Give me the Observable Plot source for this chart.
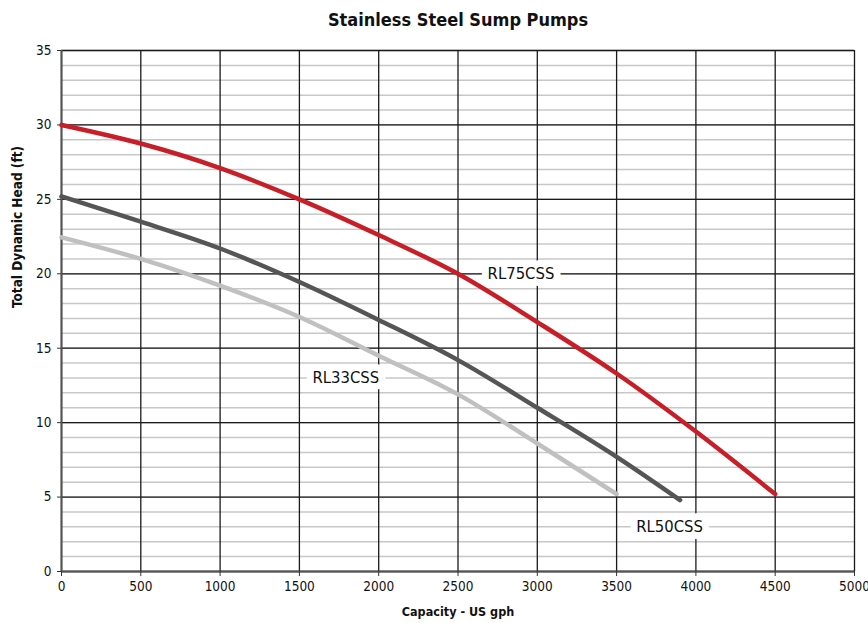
<!DOCTYPE html>
<html>
<head>
<meta charset="utf-8">
<script src="https://cdn.jsdelivr.net/npm/d3@7"></script>
<script src="https://cdn.jsdelivr.net/npm/@observablehq/plot@0.6"></script>
<style>
  body { margin: 0; background: #fff; }
  #title { width: 868px; height: 40px; line-height: 40px; text-align: center; font-family: 'Liberation Sans Narrow','DejaVu Sans Condensed',sans-serif; font-weight: bold; font-size: 18px; color: #111; padding-left: 48px; box-sizing: border-box; }
</style>
</head>
<body>
<div id="title">Stainless Steel Sump Pumps</div>
<div id="chart"></div>
<script>
// Data
const capacity = [0, 500, 1000, 1500, 2000, 2500, 3000, 3500, 4000, 4500];
const rl75 = [30.0, 28.75, 27.1, 25.0, 22.6, 20.0, 16.75, 13.3, 9.4, 5.2];
const rl50Capacity = [0, 500, 1000, 1500, 2000, 2500, 3000, 3500, 3900];
const rl50 = [25.2, 23.5, 21.7, 19.45, 16.9, 14.2, 11.0, 7.7, 4.8];
const rl33Capacity = [0, 500, 1000, 1500, 2000, 2500, 3000, 3500];
const rl33 = [22.45, 21.0, 19.2, 17.1, 14.5, 11.9, 8.6, 5.2];

const seriesNames = ["RL75CSS", "RL50CSS", "RL33CSS"];
const seriesColors = ["#c81e28", "#555555", "#c0c0c0"];
const labelX = [2897, 3834, 1793];
const labelY = [20, 3, 13];

const xTicks = [0, 500, 1000, 1500, 2000, 2500, 3000, 3500, 4000, 4500, 5000];
const yTicks = [0, 5, 10, 15, 20, 25, 30, 35];
const yMinor = [0, 1, 2, 3, 4, 5, 6, 7, 8, 9, 10, 11, 12, 13, 14, 15, 16, 17, 18, 19, 20, 21, 22, 23, 24, 25, 26, 27, 28, 29, 30, 31, 32, 33, 34, 35];

const rows = [
  ...capacity.map((c, i) => ({series: "RL75CSS", x: c, y: rl75[i]})),
  ...rl50Capacity.map((c, i) => ({series: "RL50CSS", x: c, y: rl50[i]})),
  ...rl33Capacity.map((c, i) => ({series: "RL33CSS", x: c, y: rl33[i]}))
];
const labels = seriesNames.map((s, i) => ({name: s, x: labelX[i], y: labelY[i]}));

const font = "'Liberation Sans Narrow','DejaVu Sans Condensed',sans-serif";

const chart = Plot.plot({
  width: 868,
  height: 583,
  marginLeft: 61,
  marginRight: 14,
  marginTop: 10,
  marginBottom: 52,
  style: {fontFamily: font, fontSize: "13.5px", color: "#111", background: "#fff"},
  x: {domain: [0, 5000]},
  y: {domain: [0, 35]},
  color: {domain: seriesNames, range: seriesColors},
  marks: [
    Plot.ruleY(yMinor, {stroke: "#c8c8c8", strokeWidth: 1.5}),
    Plot.ruleY(yTicks, {stroke: "#1a1a1a", strokeWidth: 1.3}),
    Plot.ruleX(xTicks, {stroke: "#1a1a1a", strokeWidth: 1.3}),
    Plot.ruleX([0], {stroke: "#555", strokeWidth: 2}),
    Plot.ruleY([0], {stroke: "#555", strokeWidth: 2}),
    Plot.axisX({ticks: xTicks, tickSize: 5, tickPadding: 5, label: null, tickFormat: d => String(d), stroke: "#333"}),
    Plot.axisY({ticks: yTicks, tickSize: 4, tickPadding: 6, label: null, tickFormat: d => String(d), stroke: "#333"}),
    Plot.line(rows, {x: "x", y: "y", z: "series", stroke: "series", strokeWidth: 4.5, curve: "monotone-x", strokeLinecap: "round"}),
    Plot.text(labels, {x: "x", y: "y", text: "name", fontSize: 16.5, fill: "#111", stroke: "white", strokeWidth: 14, strokeLinejoin: "round", paintOrder: "stroke"}),
    Plot.text(["Total Dynamic Head (ft)"], {frameAnchor: "left", rotate: -90, dx: -44, dy: -3, fontWeight: "bold", fontSize: 13.5, fill: "#111"}),
    Plot.text(["Capacity - US gph"], {frameAnchor: "bottom", dy: 44, fontWeight: "bold", fontSize: 12.5, fill: "#111"})
  ]
});
document.getElementById("chart").appendChild(chart);
</script>
</body>
</html>
